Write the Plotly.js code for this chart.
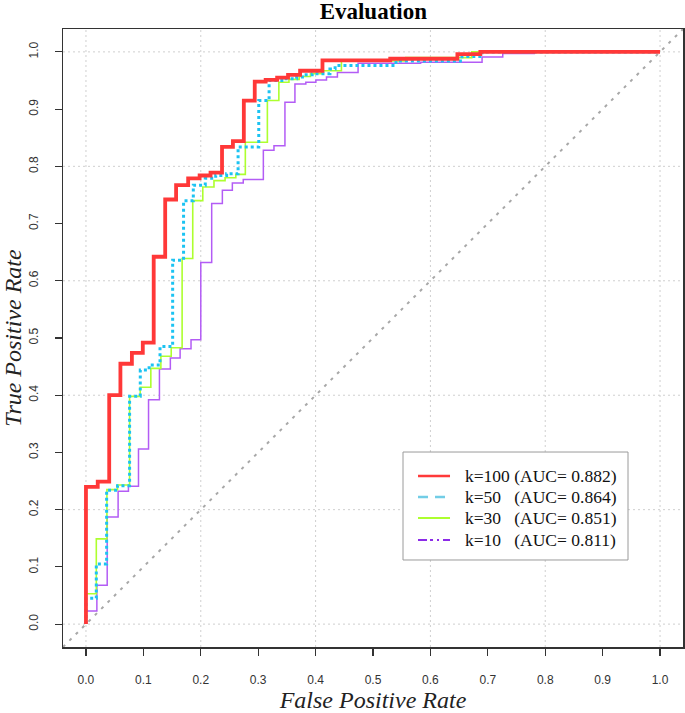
<!DOCTYPE html>
<html>
<head>
<meta charset="utf-8">
<script src="https://cdn.plot.ly/plotly-3.0.1.min.js"></script>
<style>html,body{margin:0;padding:0;background:#fff;}#chart{width:685px;height:713px;}</style>
</head>
<body>
<div id="chart"></div>
<script>
// ROC curve vertices (FPR, TPR)
var fpr100 = [0,0,0.0205,0.0405,0.06,0.08,0.099,0.118,0.138,0.157,0.178,0.198,0.217,0.237,0.256,0.275,0.294,0.313,0.333,0.352,0.373,0.412,0.530,0.647,0.687,1];
var tpr100 = [0,0.24,0.249,0.40,0.455,0.474,0.492,0.642,0.742,0.767,0.779,0.784,0.789,0.834,0.844,0.915,0.948,0.951,0.955,0.960,0.967,0.985,0.988,0.996,1,1];

var fpr50 = [0,0,0.018,0.036,0.055,0.076,0.0946,0.11,0.129,0.151,0.17,0.187,0.2078,0.226,0.245,0.265,0.301,0.319,0.345,0.367,0.38,0.394,0.425,0.434,0.54,0.655,0.69,1];
var tpr50 = [0,0.045,0.105,0.234,0.242,0.398,0.444,0.453,0.485,0.636,0.740,0.767,0.779,0.784,0.787,0.834,0.915,0.95,0.953,0.956,0.96,0.962,0.97,0.976,0.984,0.992,1,1];

var fpr30 = [0,0,0.018,0.0365,0.055,0.076,0.0945,0.113,0.1305,0.1485,0.1675,0.186,0.2035,0.223,0.2423,0.261,0.2776,0.316,0.336,0.3536,0.3715,0.391,0.4104,0.445,0.557,0.672,1];
var tpr30 = [0,0.053,0.149,0.235,0.243,0.398,0.414,0.447,0.468,0.483,0.639,0.740,0.764,0.775,0.78,0.786,0.842,0.915,0.947,0.952,0.957,0.962,0.967,0.984,0.99,1,1];

var fpr10 = [0,0,0.019,0.037,0.056,0.074,0.0915,0.109,0.128,0.147,0.164,0.183,0.2,0.219,0.2376,0.255,0.274,0.309,0.3275,0.3466,0.364,0.383,0.4005,0.419,0.438,0.474,0.583,0.690,0.726,0.781,1];
var tpr10 = [0,0.023,0.068,0.187,0.232,0.241,0.306,0.392,0.446,0.465,0.481,0.497,0.632,0.735,0.758,0.771,0.777,0.828,0.836,0.912,0.944,0.947,0.951,0.956,0.964,0.980,0.982,0.991,0.997,1,1];

var legendNames = ['k=100 (AUC= 0.882)', 'k=50\u00a0\u00a0\u00a0(AUC= 0.864)', 'k=30\u00a0\u00a0\u00a0(AUC= 0.851)', 'k=10\u00a0\u00a0\u00a0(AUC= 0.811)'];
var tickVals = [0,0.1,0.2,0.3,0.4,0.5,0.6,0.7,0.8,0.9,1.0];
var tickText = ['0.0','0.1','0.2','0.3','0.4','0.5','0.6','0.7','0.8','0.9','1.0'];
var gridVals = [0,0.2,0.4,0.6,0.8,1.0];

var RED = '#ff3838', BLUE = '#1cc3f2', GREEN = '#adff2f', PURPLE = '#b35cf5';

function curve(x, y, color, width, dash) {
  return {x: x, y: y, type: 'scatter', mode: 'lines', line: {shape: 'hv', color: color, width: width, dash: dash}, showlegend: false, hoverinfo: 'skip'};
}

var data = [
  curve(fpr10, tpr10, PURPLE, 1.5, 'solid'),
  curve(fpr30, tpr30, GREEN, 1.6, 'solid'),
  curve(fpr50, tpr50, BLUE, 3, 'dot'),
  curve(fpr100, tpr100, RED, 3.8, 'solid')
];

var shapes = [];
gridVals.forEach(function (v) {
  shapes.push({type: 'line', xref: 'x', yref: 'paper', x0: v, x1: v, y0: 0, y1: 1, layer: 'below', line: {color: '#cfcfcf', width: 1, dash: '2px,3px'}});
  shapes.push({type: 'line', xref: 'paper', yref: 'y', x0: 0, x1: 1, y0: v, y1: v, layer: 'below', line: {color: '#cfcfcf', width: 1, dash: '2px,3px'}});
});
shapes.push({type: 'line', xref: 'x', yref: 'y', x0: -0.04, y0: -0.04, x1: 1.04, y1: 1.04, layer: 'below', line: {color: '#a8a8a8', width: 2, dash: '3px,6px'}});

// custom legend box (paper coordinates)
var legBox = {x0: 0.5484, x1: 0.9113, y0: 0.1408, y1: 0.3155};
var legRowY = [0.2767, 0.2427, 0.2087, 0.1731];
var legStyles = [
  {color: '#ff3a3a', width: 2.5, dash: 'solid'},
  {color: '#72cde6', width: 2.5, dash: '10px,7px'},
  {color: GREEN, width: 2.2, dash: 'solid'},
  {color: '#8c2be8', width: 2.2, dash: '9px,3px,3px,4px,2px,4px'}
];
shapes.push({type: 'rect', xref: 'paper', yref: 'paper', x0: legBox.x0, x1: legBox.x1, y0: legBox.y0, y1: legBox.y1, layer: 'above', fillcolor: '#fff', line: {color: '#9a9a9a', width: 1}});
var annotations = [];
legendNames.forEach(function (name, i) {
  shapes.push({type: 'line', xref: 'paper', yref: 'paper', x0: 0.5726, x1: 0.6242, y0: legRowY[i], y1: legRowY[i], layer: 'above', line: legStyles[i]});
  annotations.push({xref: 'paper', yref: 'paper', x: 0.6455, y: legRowY[i], xanchor: 'left', yanchor: 'middle', showarrow: false, text: name,
    font: {family: 'Liberation Serif, Times New Roman, serif', size: 17.5, color: '#111'}});
});

var tickFont = {family: 'Liberation Sans Narrow, Arial Narrow, Liberation Sans, Arial, sans-serif', size: 12, color: '#333'};
var layout = {
  width: 685, height: 713,
  margin: {l: 63, r: 2, t: 29, b: 66},
  paper_bgcolor: '#fff', plot_bgcolor: '#fff',
  title: {text: '<b>Evaluation</b>', font: {family: 'Liberation Serif, Times New Roman, serif', size: 23, color: '#000'}, x: 0.545, xanchor: 'center', y: 0.985, yanchor: 'middle'},
  xaxis: {
    range: [-0.04, 1.04], tickmode: 'array', tickvals: tickVals, ticktext: tickText,
    showgrid: false, zeroline: false, showline: true, mirror: true, linecolor: '#333', linewidth: 1.5,
    ticks: 'outside', ticklen: 7, tickwidth: 1.2, tickcolor: '#333', tickfont: tickFont, ticklabelstandoff: 14,
    title: {text: '<i>False Positive Rate</i>', font: {family: 'Liberation Serif, Times New Roman, serif', size: 24, color: '#222'}, standoff: 8}
  },
  yaxis: {
    range: [-0.04, 1.04], tickmode: 'array', tickvals: tickVals, ticktext: tickText, tickangle: -90,
    showgrid: false, zeroline: false, showline: true, mirror: true, linecolor: '#333', linewidth: 1.5,
    ticks: 'outside', ticklen: 7, tickwidth: 1.2, tickcolor: '#333', tickfont: tickFont, ticklabelstandoff: 12,
    title: {text: '<i>True Positive Rate</i>', font: {family: 'Liberation Serif, Times New Roman, serif', size: 24, color: '#222'}, standoff: 4}
  },
  shapes: shapes,
  annotations: annotations,
  showlegend: false
};

Plotly.newPlot('chart', data, layout, {displayModeBar: false, staticPlot: true});
</script>
</body>
</html>
